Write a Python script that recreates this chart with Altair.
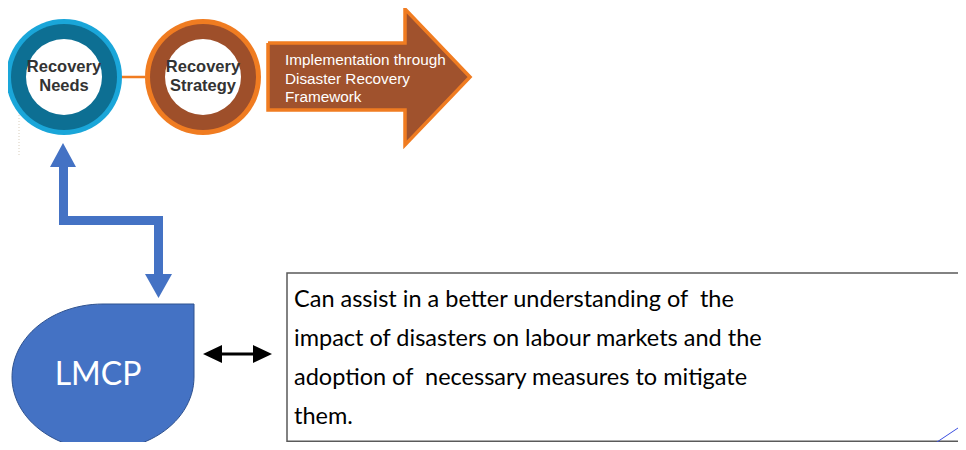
import altair as alt
import pandas as pd
import numpy as np

# ---- text content ----
circle_line1 = ["Recovery", "Recovery"]
circle_line2 = ["Needs", "Strategy"]
arrow_lines = ["Implementation through", "Disaster Recovery", "Framework"]
lmcp_label = ["LMCP"]
box_lines = [
    "Can assist in a better understanding of  the",
    "impact of disasters on labour markets and the",
    "adoption of  necessary measures to mitigate",
    "them.",
]

# ---- layout (image pixel space, y downward) ----
circle_cx = [64, 203]
circle_cy = [77, 77]
ring_r = [58, 53, 38]
ring_colors = [["#1AA6D9", "#0D6F93", "#FFFFFF"], ["#F07C21", "#9E4F2A", "#FFFFFF"]]

X = alt.Scale(domain=[8, 958], nice=False, zero=False)
Y = alt.Scale(domain=[8, 442], nice=False, zero=False, reverse=True)


def xe(f="x"):
    return alt.X(f"{f}:Q", scale=X, axis=None)


def ye(f="y"):
    return alt.Y(f"{f}:Q", scale=Y, axis=None)


def polygon(pts, fill, stroke=None, sw=0):
    df = pd.DataFrame({"i": range(len(pts) + 1),
                       "x": [p[0] for p in pts] + [pts[0][0]],
                       "y": [p[1] for p in pts] + [pts[0][1]]})
    kw = dict(fill=fill, strokeWidth=sw)
    kw["stroke"] = stroke if stroke else fill
    return alt.Chart(df).mark_line(**kw).encode(x=xe(), y=ye(), order="i:Q")


def segment(x1, y1, x2, y2, color, sw, dash=None):
    df = pd.DataFrame({"i": [0, 1], "x": [x1, x2], "y": [y1, y2]})
    kw = dict(color=color, strokeWidth=sw)
    if dash:
        kw["strokeDash"] = dash
    return alt.Chart(df).mark_line(**kw).encode(x=xe(), y=ye(), order="i:Q")


layers = []

# faint dotted line and orange connector
layers.append(segment(19, 115, 19, 156, "#D8CDBB", 1, [1, 2]))
layers.append(segment(2, 77, 145, 77, "#F07C21", 2.5))

# ring circles (Vega symbol size = diameter^2)
rows = []
k = 0
for c in range(2):
    for j, r in enumerate(ring_r):
        rows.append({"k": k, "x": circle_cx[c], "y": circle_cy[c],
                     "size": (2 * r) ** 2, "col": ring_colors[c][j]})
        k += 1
cdf = pd.DataFrame(rows)
layers.append(alt.Chart(cdf).mark_circle(opacity=1).encode(
    x=xe(), y=ye(), size=alt.Size("size:Q", scale=None),
    color=alt.Color("col:N", scale=None), order="k:Q"))

# circle labels
tdf = pd.DataFrame({"x": circle_cx * 2, "y": [67, 67, 86, 86],
                    "t": circle_line1 + circle_line2})
layers.append(alt.Chart(tdf).mark_text(font="Liberation Sans", fontWeight="bold",
                                       fontSize=16.5, color="#333333", baseline="middle",
                                       align="center").encode(x=xe(), y=ye(), text="t:N"))

# big arrow
layers.append(polygon([(268, 43), (405, 43), (405, 9), (470, 77), (405, 145),
                       (405, 110), (268, 110)], "#A0522D", "#F07C21", 3.5))
adf = pd.DataFrame({"x": [285] * 3, "y": [60, 79, 97], "t": arrow_lines})
layers.append(alt.Chart(adf).mark_text(font="Liberation Sans", fontSize=15.3,
                                       color="#FFFFFF", baseline="middle",
                                       align="left").encode(x=xe(), y=ye(), text="t:N"))

# blue elbow arrow
layers.append(polygon([(63, 143), (76, 167), (68, 167), (68, 216), (163, 216), (163, 274),
                       (172, 274), (158.5, 298), (145, 274), (154, 274), (154, 225),
                       (59, 225), (59, 167), (50, 167)], "#4472C4"))

# LMCP teardrop
cx, cy, rx, ry = 103, 377, 91, 73
t = np.linspace(0, 1.5 * np.pi, 80)
pts = [(194, 304)] + [(cx + rx * np.cos(a), cy + ry * np.sin(a)) for a in t]
layers.append(polygon(pts, "#4472C4", "#2F528F", 1))
ldf = pd.DataFrame({"x": [98], "y": [375], "t": lmcp_label})
layers.append(alt.Chart(ldf).mark_text(font="Lato", fontSize=32, color="#FFFFFF",
                                       baseline="middle", align="center").encode(
    x=xe(), y=ye(), text="t:N"))

# black double arrow
layers.append(polygon([(203, 354), (222, 345), (222, 352.5), (253, 352.5), (253, 345),
                       (272, 354), (253, 363), (253, 355.5), (222, 355.5), (222, 363)],
                      "#000000"))

# text box
bdf = pd.DataFrame({"x": [287], "x2": [990], "y": [273], "y2": [441.2]})
layers.append(alt.Chart(bdf).mark_rect(fill="#FFFFFF", stroke="#5A5A5A", strokeWidth=1.5).encode(
    x=xe(), x2="x2:Q", y=ye(), y2="y2:Q"))
shown = [s.replace("  ", " \u00a0") for s in box_lines]
btd = pd.DataFrame({"x": [294] * 4, "y": [300, 339, 378, 417], "t": shown})
layers.append(alt.Chart(btd).mark_text(font="Lato", fontSize=23.5, color="#000000",
                                       baseline="middle", align="left").encode(
    x=xe(), y=ye(), text="t:N"))

# thin blue line bottom right
layers.append(segment(922, 452, 970, 420, "#3B4FE0", 1))

chart = alt.layer(*layers).properties(
    width=950, height=434, padding=0, autosize="none", background="#FFFFFF"
).configure_view(stroke=None)

chart.save("out.html", embed_options={"renderer": "svg", "actions": False})
